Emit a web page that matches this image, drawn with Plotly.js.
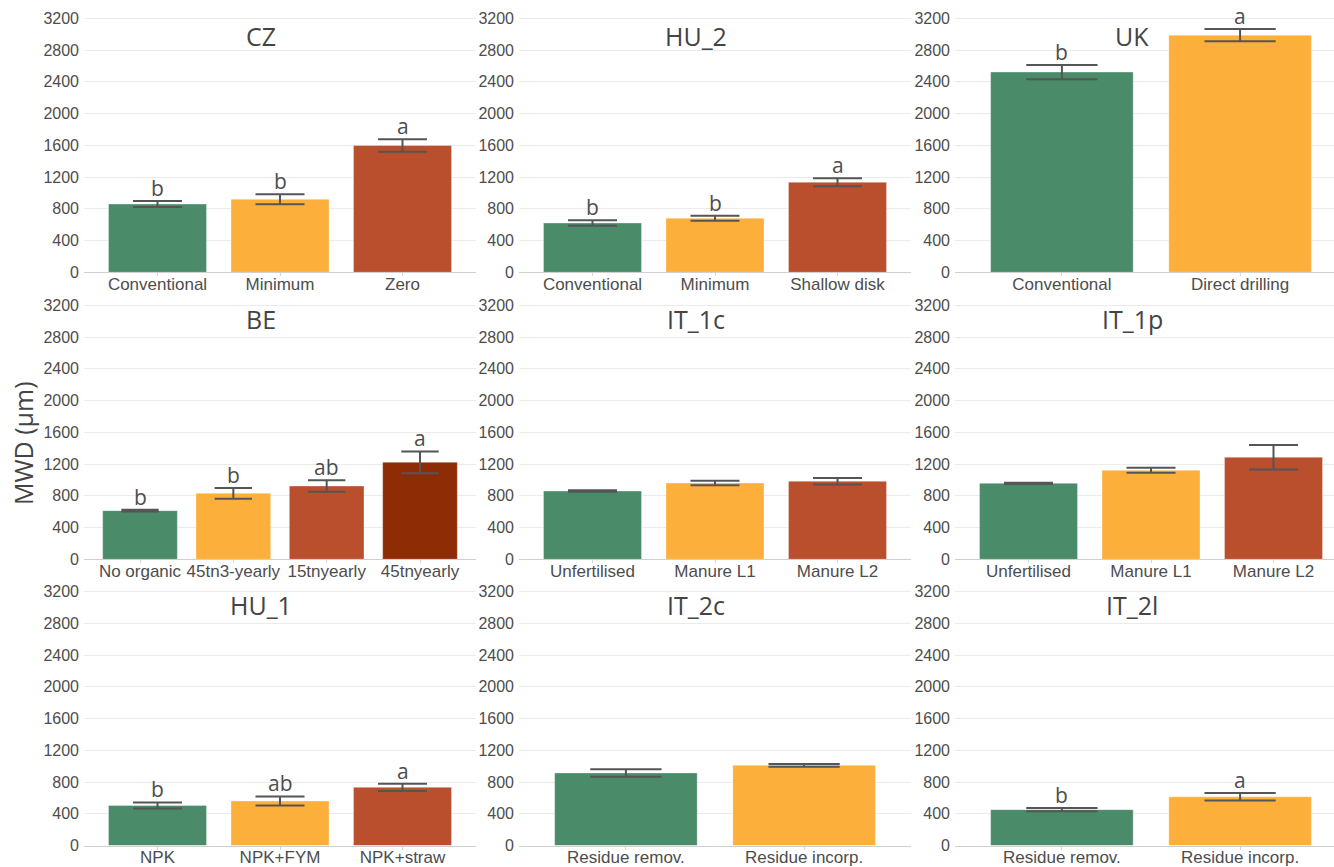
<!DOCTYPE html>
<html>
<head>
<meta charset="utf-8">
<script src="https://cdn.plot.ly/plotly-3.0.1.min.js"></script>
<style>
html, body { margin: 0; padding: 0; overflow: hidden; background: #fff; }
#chart { width: 1350px; height: 867px; }
</style>
</head>
<body>
<div id="chart"></div>
<script>
// ---- Data (MWD, µm) ----
const panelNames = ['CZ', 'HU_2', 'UK', 'BE', 'IT_1c', 'IT_1p', 'HU_1', 'IT_2c', 'IT_2l'];

const czCats = ['Conventional', 'Minimum', 'Zero'];
const czMeans = [860, 920, 1597];
const czErr = [38, 63, 78];
const czLetters = ['b', 'b', 'a'];

const hu2Cats = ['Conventional', 'Minimum', 'Shallow disk'];
const hu2Means = [621, 680, 1134];
const hu2Err = [34, 32, 50];
const hu2Letters = ['b', 'b', 'a'];

const ukCats = ['Conventional', 'Direct drilling'];
const ukMeans = [2523, 2988];
const ukErr = [90, 78];
const ukLetters = ['b', 'a'];

const beCats = ['No organic', '45tn3-yearly', '15tnyearly', '45tnyearly'];
const beMeans = [613, 831, 923, 1222];
const beErr = [12, 67, 72, 137];
const beLetters = ['b', 'b', 'ab', 'a'];

const it1cCats = ['Unfertilised', 'Manure L1', 'Manure L2'];
const it1cMeans = [860, 961, 983];
const it1cErr = [9, 28, 40];
const it1cLetters = ['', '', ''];

const it1pCats = ['Unfertilised', 'Manure L1', 'Manure L2'];
const it1pMeans = [957, 1121, 1285];
const it1pErr = [7, 32, 155];
const it1pLetters = ['', '', ''];

const hu1Cats = ['NPK', 'NPK+FYM', 'NPK+straw'];
const hu1Means = [505, 562, 734];
const hu1Err = [38, 58, 45];
const hu1Letters = ['b', 'ab', 'a'];

const it2cCats = ['Residue remov.', 'Residue incorp.'];
const it2cMeans = [915, 1011];
const it2cErr = [46, 17];
const it2cLetters = ['', ''];

const it2lCats = ['Residue remov.', 'Residue incorp.'];
const it2lMeans = [453, 615];
const it2lErr = [20, 48];
const it2lLetters = ['b', 'a'];

const yTicks = [0, 400, 800, 1200, 1600, 2000, 2400, 2800, 3200];
const yTitle = 'MWD (μm)';

// ---- Styling ----
const palette = ['#4A8B69', '#FDAF3C', '#B94F2D', '#8E2D05'];
const panels = [
  [czCats, czMeans, czErr, czLetters],
  [hu2Cats, hu2Means, hu2Err, hu2Letters],
  [ukCats, ukMeans, ukErr, ukLetters],
  [beCats, beMeans, beErr, beLetters],
  [it1cCats, it1cMeans, it1cErr, it1cLetters],
  [it1pCats, it1pMeans, it1pErr, it1pLetters],
  [hu1Cats, hu1Means, hu1Err, hu1Letters],
  [it2cCats, it2cMeans, it2cErr, it2cLetters],
  [it2lCats, it2lMeans, it2lErr, it2lLetters]
];

const W = 1350, H = 867;
const colLeft = [84, 519, 955];
const colW = 392;
const rowZero = [272.3, 559.3, 845.6];
const pxPerUnit = 254 / 3200;
const yMax = 3260;
const titleY = [36, 319, 605];

const tickFont = { family: 'Liberation Sans, Arial, sans-serif', size: 16, color: '#4d4d4d' };
const xTickFont = { family: 'Liberation Sans, Arial, sans-serif', size: 17, color: '#4d4d4d' };
const titleFont = { family: 'Open Sans, Noto Sans, sans-serif', size: 25, color: '#444444' };
const letterFont = { family: 'Open Sans, Noto Sans, sans-serif', size: 21, color: '#4d4d4d' };

const data = [];
const layout = {
  width: W, height: H,
  margin: { l: 0, r: 0, t: 0, b: 0 },
  paper_bgcolor: '#ffffff',
  plot_bgcolor: '#ffffff',
  showlegend: false,
  hovermode: false,
  bargap: 0.2,
  annotations: []
};

panels.forEach((p, i) => {
  const [cats, means, errs, letters] = p;
  const row = Math.floor(i / 3), col = i % 3;
  const n = cats.length;
  const sfx = i === 0 ? '' : String(i + 1);
  const catPx = colW / (n + 0.2);
  data.push({
    type: 'bar',
    x: cats,
    y: means,
    width: 0.8,
    xaxis: 'x' + sfx,
    yaxis: 'y' + sfx,
    marker: { color: palette.slice(0, n), line: { width: 0.6, color: 'rgba(255,255,255,0.55)' } },
    error_y: { type: 'data', array: errs, visible: true, color: '#555555', thickness: 2, width: catPx * 0.2 }
  });
  const x0 = colLeft[col] / W, x1 = (colLeft[col] + colW) / W;
  const yb = 1 - rowZero[row] / H;
  const yt = 1 - (rowZero[row] - yMax * pxPerUnit) / H;
  layout['xaxis' + sfx] = {
    domain: [x0, x1], anchor: 'y' + sfx, type: 'category',
    range: [-0.6, n - 0.4], fixedrange: true,
    showgrid: false, showline: true, linecolor: '#cfcfcf', linewidth: 1,
    ticks: 'outside', ticklen: 3, tickcolor: '#d6d6d6', tickwidth: 1,
    ticklabelstandoff: -7,
    tickfont: xTickFont, zeroline: false
  };
  layout['yaxis' + sfx] = {
    domain: [yb, yt], anchor: 'x' + sfx,
    range: [0, yMax], tickmode: 'array', tickvals: yTicks, ticktext: yTicks.map(String),
    showgrid: true, gridcolor: '#ebebeb', gridwidth: 1,
    zeroline: false, showline: false, ticks: '', ticklabelstandoff: 4,
    tickfont: tickFont, fixedrange: true
  };
  layout.annotations.push({
    text: panelNames[i], xref: 'paper', yref: 'paper',
    x: (colLeft[col] + 177) / W, y: 1 - titleY[row] / H,
    xanchor: 'center', yanchor: 'middle', showarrow: false, font: titleFont
  });
  cats.forEach((c, k) => {
    if (!letters[k]) return;
    layout.annotations.push({
      text: letters[k], xref: 'x' + sfx, yref: 'y' + sfx,
      x: c, y: means[k] + errs[k], xanchor: 'center', yanchor: 'bottom',
      yshift: -3, showarrow: false, font: letterFont
    });
  });
});

layout.annotations.push({
  text: yTitle, xref: 'paper', yref: 'paper',
  x: 23 / W, y: 1 - 443 / H, xanchor: 'center', yanchor: 'middle',
  textangle: -90, showarrow: false, font: titleFont
});

Plotly.newPlot('chart', data, layout, { displayModeBar: false, staticPlot: true });
</script>
</body>
</html>
